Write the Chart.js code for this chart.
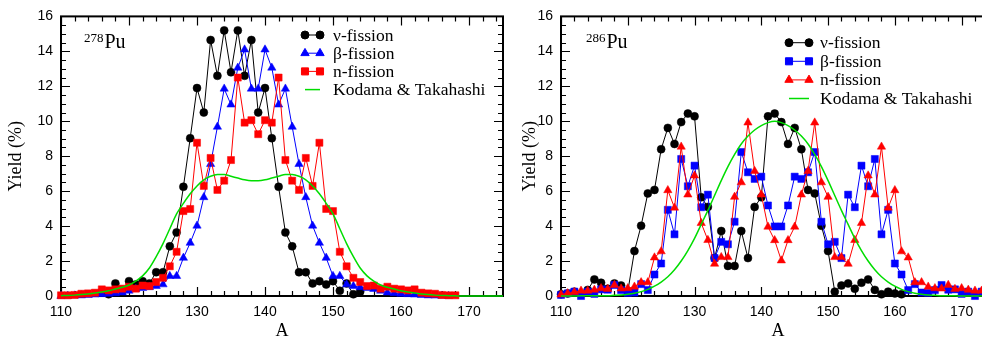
<!DOCTYPE html>
<html>
<head>
<meta charset="utf-8">
<script src="https://cdn.jsdelivr.net/npm/chart.js@4.4.0/dist/chart.umd.min.js"></script>
<style>
  html, body { margin: 0; padding: 0; background: #fff; overflow: hidden; }
  #wrap { position: relative; width: 982px; height: 342px; overflow: hidden; }
  #panelLeft { position: absolute; left: 0; top: 0; }
  #panelRight { position: absolute; left: 510px; top: 0; }
</style>
</head>
<body>
<div id="wrap">
  <canvas id="panelLeft" width="510" height="342"></canvas>
  <canvas id="panelRight" width="500" height="342"></canvas>
</div>
<script>
// mass number axis and ticks
var massNumbers = [110, 111, 112, 113, 114, 115, 116, 117, 118, 119,
  120, 121, 122, 123, 124, 125, 126, 127, 128, 129,
  130, 131, 132, 133, 134, 135, 136, 137, 138, 139,
  140, 141, 142, 143, 144, 145, 146, 147, 148, 149,
  150, 151, 152, 153, 154, 155, 156, 157, 158, 159,
  160, 161, 162, 163, 164, 165, 166, 167, 168, 169,
  170, 171, 172, 173, 174, 175];
var xTickValues = [110, 120, 130, 140, 150, 160, 170];
var yTickValues = [0, 2, 4, 6, 8, 10, 12, 14, 16];

var seriesNames = ['\u03bd-fission', '\u03b2-fission', 'n-fission', 'Kodama & Takahashi'];

// 278Pu yields (%), null = no point
var nuYield278 = [null, null, null, null, null, null, 0.25, 0.1, 0.72, 0.3,
  0.85, 0.66, 0.85, 0.72, 1.36, 1.36, 2.84, 3.64, 6.25, 9.03,
  11.9, 10.5, 14.65, 12.6, 15.2, 12.8, 15.2, 12.6, 14.65, 10.5,
  11.9, 9.03, 6.25, 3.64, 2.84, 1.36, 1.36, 0.72, 0.85, 0.66,
  0.85, 0.3, 0.72, 0.1, 0.25, null, null, null, null, null,
  null, null, null, null, null, null, null, null, null, null,
  null, null, null, null, null, null];
var betaYield278 = [0, 0.01, 0.02, 0.03, 0.05, 0.08, 0.1, 0.12, 0.15, 0.2,
  0.3, 0.4, 0.45, 0.5, 0.57, 0.66, 1.14, 1.14, 2.18, 3.04,
  4.02, 5.65, 7.55, 9.68, 11.86, 10.95, 13.06, 14.1, 11.86, 11.86,
  14.1, 13.06, 10.95, 11.86, 9.68, 7.55, 5.65, 4.02, 3.04, 2.18,
  1.14, 1.14, 0.66, 0.57, 0.5, 0.45, 0.4, 0.3, 0.2, 0.15,
  0.12, 0.1, 0.08, 0.05, 0.03, 0.02, 0.01, 0, null, null,
  null, null, null, null, null, null];
var nYield278 = [0.04, 0.04, 0.06, 0.13, 0.15, 0.19, 0.38, 0.32, 0.38, 0.42,
  0.53, 0.42, 0.6, 0.57, 0.8, 1.04, 1.7, 2.53, 4.86, 4.98,
  8.77, 6.3, 7.9, 6.07, 6.6, 7.78, 12.5, 9.92, 10.06, 9.26,
  10.06, 9.92, 12.5, 7.78, 6.6, 6.07, 7.9, 6.3, 8.77, 4.98,
  4.86, 2.53, 1.7, 1.04, 0.8, 0.57, 0.6, 0.42, 0.53, 0.42,
  0.38, 0.32, 0.38, 0.19, 0.15, 0.13, 0.06, 0.04, 0.04, null,
  null, null, null, null, null, null];
var ktYield278 = [0.02, 0.03, 0.05, 0.08, 0.12, 0.17, 0.23, 0.3, 0.4, 0.5,
  0.63, 0.85, 1.15, 1.6, 2.25, 3.0, 3.85, 4.7, 5.3, 5.85,
  6.3, 6.65, 6.85, 6.95, 6.95, 6.85, 6.75, 6.65, 6.6, 6.6,
  6.65, 6.75, 6.85, 6.95, 6.95, 6.85, 6.65, 6.3, 5.85, 5.3,
  4.7, 3.85, 3.0, 2.25, 1.6, 1.15, 0.85, 0.63, 0.5, 0.4,
  0.3, 0.23, 0.17, 0.12, 0.08, 0.05, 0.03, 0.02, 0.01, 0,
  0, 0, 0, 0, 0, 0];

// 286Pu yields (%)
var nuYield286 = [0.1, 0.15, 0.25, 0.1, 0.35, 0.95, 0.76, 0.42, 0.72, 0.6,
  0.25, 2.57, 4.02, 5.87, 6.07, 8.4, 9.62, 8.7, 9.95, 10.44,
  10.28, 5.65, 5.1, 2.17, 3.72, 1.72, 1.72, 3.72, 2.17, 5.1,
  5.65, 10.28, 10.44, 9.95, 8.7, 9.62, 8.4, 6.07, 5.87, 4.02,
  2.57, 0.25, 0.6, 0.72, 0.42, 0.76, 0.95, 0.35, 0.1, 0.25,
  0.15, 0.1, null, null, null, null, null, null, null, null,
  null, null, null, null, null, null];
var betaYield286 = [0.06, 0.15, 0.25, 0, 0.25, 0.12, 0.38, 0.36, 0.63, 0.34,
  0.18, 0.2, 0.68, 0.34, 1.23, 1.86, 4.93, 3.53, 7.84, 6.28,
  7.46, 5.08, 5.8, 2.17, 3.1, 2.96, 4.25, 8.24, 7.08, 6.7,
  6.83, 5.18, 3.98, 3.98, 5.18, 6.83, 6.7, 7.08, 8.24, 4.25,
  2.96, 3.1, 2.17, 5.8, 5.08, 7.46, 6.28, 7.84, 3.53, 4.93,
  1.86, 1.23, 0.34, 0.68, 0.2, 0.18, 0.34, 0.63, 0.36, 0.38,
  0.12, 0.25, 0, 0.25, null, null];
var nYield286 = [0.08, 0.15, 0.22, 0.3, 0.3, 0.35, 0.44, 0.4, 0.63, 0.42,
  0.44, 0.53, 0.78, 0.78, 2.2, 2.55, 6.05, 5.05, 8.54, 5.8,
  6.89, 4.17, 3.2, 1.84, 2.22, 2.22, 5.67, 6.5, 9.92, 7.15,
  5.8, 3.96, 3.19, 2.03, 3.19, 3.96, 5.8, 7.15, 9.92, 6.5,
  5.67, 2.22, 2.22, 1.84, 3.2, 4.17, 6.89, 5.8, 8.54, 5.05,
  6.05, 2.55, 2.2, 0.78, 0.78, 0.53, 0.44, 0.42, 0.63, 0.4,
  0.44, 0.35, 0.3, 0.3, null, null];
var ktYield286 = [0, 0, 0, 0.01, 0.01, 0.01, 0.01, 0.02, 0.04, 0.06,
  0.1, 0.16, 0.25, 0.38, 0.56, 0.8, 1.1, 1.5, 2.0, 2.6,
  3.3, 4.1, 4.9, 5.75, 6.6, 7.4, 8.1, 8.7, 9.15, 9.5,
  9.75, 9.92, 10.0, 9.92, 9.75, 9.5, 9.15, 8.7, 8.1, 7.4,
  6.6, 5.75, 4.9, 4.1, 3.3, 2.6, 2.0, 1.5, 1.1, 0.8,
  0.56, 0.38, 0.25, 0.16, 0.1, 0.06, 0.04, 0.02, 0.01, 0.01,
  0, 0, 0, 0, 0, 0];

// pair A with a yield column, dropping empty slots
function toPoints(values) {
  var pts = [];
  for (var i = 0; i < massNumbers.length; i++) {
    if (values[i] !== null) pts.push({ x: massNumbers[i], y: values[i] });
  }
  return pts;
}

// box with inward major/minor ticks on all four sides
var frameTicks = {
  id: 'frameTicks',
  beforeDatasetsDraw: function (chart) {
    var ctx = chart.ctx, a = chart.chartArea;
    var xs = chart.scales.x, ys = chart.scales.y;
    var v, p, len;
    ctx.save();
    ctx.strokeStyle = '#000';
    ctx.lineWidth = 1.2;
    ctx.beginPath();
    for (v = xs.min; v <= xs.max + 0.001; v += 2) {
      p = Math.round(xs.getPixelForValue(v)) + 0.5;
      len = (v % 10 === 0) ? 9 : 5;
      ctx.moveTo(p, a.bottom); ctx.lineTo(p, a.bottom - len);
      ctx.moveTo(p, a.top); ctx.lineTo(p, a.top + len);
    }
    for (v = ys.min; v <= ys.max + 0.001; v += 0.5) {
      p = Math.round(ys.getPixelForValue(v)) + 0.5;
      len = (v % 2 === 0) ? 9 : 5;
      ctx.moveTo(a.left, p); ctx.lineTo(a.left + len, p);
      ctx.moveTo(a.right, p); ctx.lineTo(a.right - len, p);
    }
    ctx.stroke();
    ctx.lineWidth = 2;
    ctx.strokeRect(a.left, a.top, a.right - a.left, a.bottom - a.top);
    ctx.restore();
  }
};

// legend rows: line with a marker at each end, then the name
var legendRows = {
  id: 'legendRows',
  afterDraw: function (chart, args, opts) {
    var ctx = chart.ctx;
    ctx.save();
    ctx.font = opts.font;
    ctx.textBaseline = 'middle';
    ctx.fillStyle = '#000';
    chart.data.datasets.forEach(function (ds, i) {
      var y = opts.top + i * opts.rowHeight;
      ctx.strokeStyle = ds.borderColor;
      ctx.fillStyle = ds.borderColor;
      ctx.lineWidth = ds.borderWidth;
      ctx.beginPath();
      ctx.moveTo(opts.x1, y);
      ctx.lineTo(opts.x2, y);
      ctx.stroke();
      if (ds.pointRadius > 0) {
        [opts.x1, opts.x2].forEach(function (px) {
          Chart.helpers.drawPoint(ctx, { pointStyle: ds.pointStyle, radius: ds.pointRadius, borderWidth: 0.5, rotation: 0 }, px, y);
        });
      }
      ctx.fillStyle = '#000';
      ctx.fillText(ds.label, opts.textX, y + 1);
    });
    ctx.restore();
  }
};

// nucleus tag such as 278Pu with raised mass number
var nucleusTag = {
  id: 'nucleusTag',
  afterDraw: function (chart, args, opts) {
    var ctx = chart.ctx;
    ctx.save();
    ctx.fillStyle = '#000';
    ctx.textBaseline = 'alphabetic';
    ctx.font = '13px "Liberation Serif"';
    ctx.fillText(opts.mass, opts.x, opts.y - 6);
    var w = ctx.measureText(opts.mass).width;
    ctx.font = '20px "Liberation Serif"';
    ctx.fillText(opts.symbol, opts.x + w + 1, opts.y);
    ctx.restore();
  }
};

function makeDataset(label, values, color, style, radius, order) {
  return {
    label: label,
    data: toPoints(values),
    borderColor: color,
    backgroundColor: color,
    borderWidth: 1,
    pointStyle: style,
    pointRadius: radius,
    pointBackgroundColor: color,
    pointBorderColor: color,
    pointBorderWidth: 0.5,
    tension: 0,
    clip: false,
    order: order
  };
}

function curveDataset(label, values, color, order) {
  return {
    label: label,
    data: toPoints(values),
    borderColor: color,
    borderWidth: 1.5,
    pointRadius: 0,
    cubicInterpolationMode: 'monotone',
    clip: false,
    order: order
  };
}

function buildOptions(yAxisWidth, yTitlePad, rightPad, legend, tag) {
  return {
    responsive: false,
    animation: false,
    events: [],
    layout: { padding: { left: 0, right: rightPad, top: 15, bottom: 0 } },
    scales: {
      x: {
        type: 'linear',
        min: 110,
        max: 175,
        afterFit: function (scale) { scale.height = 46; },
        afterBuildTicks: function (scale) {
          scale.ticks = xTickValues.map(function (v) { return { value: v }; });
        },
        grid: { display: false, drawTicks: false },
        border: { display: false },
        ticks: {
          color: '#000',
          padding: 8,
          maxRotation: 0,
          font: { family: '"Liberation Sans", Arial, sans-serif', size: 14 }
        },
        title: {
          display: true,
          text: 'A',
          color: '#000',
          padding: { top: 0, bottom: 0 },
          font: { family: '"Liberation Serif", serif', size: 18 }
        }
      },
      y: {
        type: 'linear',
        min: 0,
        max: 16,
        afterFit: function (scale) { scale.width = yAxisWidth; },
        afterBuildTicks: function (scale) {
          scale.ticks = yTickValues.map(function (v) { return { value: v }; });
        },
        grid: { display: false, drawTicks: false },
        border: { display: false },
        ticks: {
          color: '#000',
          padding: 8,
          font: { family: '"Liberation Sans", Arial, sans-serif', size: 14 }
        },
        title: {
          display: true,
          text: 'Yield (%)',
          color: '#000',
          padding: { top: yTitlePad, bottom: 0 },
          font: { family: '"Liberation Serif", serif', size: 18 }
        }
      }
    },
    plugins: {
      legend: { display: false },
      tooltip: { enabled: false },
      legendRows: legend,
      nucleusTag: tag
    }
  };
}

document.addEventListener('DOMContentLoaded', function () {
  // left panel: 278Pu
  new Chart(document.getElementById('panelLeft').getContext('2d'), {
    type: 'line',
    data: {
      datasets: [
        makeDataset(seriesNames[0], nuYield278, '#000000', 'circle', 4, 4),
        makeDataset(seriesNames[1], betaYield278, '#0000ff', 'triangle', 4.8, 3),
        makeDataset(seriesNames[2], nYield278, '#ff0000', 'rect', 5, 2),
        curveDataset(seriesNames[3], ktYield278, '#00dd00', 1)
      ]
    },
    options: buildOptions(61, 5, 7,
      { x1: 305, x2: 320, textX: 333, top: 35, rowHeight: 18.2, font: '17.5px "Liberation Serif"' },
      { mass: '278', symbol: 'Pu', x: 84, y: 48 }),
    plugins: [frameTicks, legendRows, nucleusTag]
  });

  // right panel: 286Pu
  new Chart(document.getElementById('panelRight').getContext('2d'), {
    type: 'line',
    data: {
      datasets: [
        makeDataset(seriesNames[0], nuYield286, '#000000', 'circle', 4, 4),
        makeDataset(seriesNames[1], betaYield286, '#0000ff', 'rect', 5, 3),
        makeDataset(seriesNames[2], nYield286, '#ff0000', 'triangle', 4.8, 2),
        curveDataset(seriesNames[3], ktYield286, '#00dd00', 1)
      ]
    },
    options: buildOptions(51, 9, 15,
      { x1: 279, x2: 299, textX: 310, top: 42.7, rowHeight: 18.6, font: '17.5px "Liberation Serif"' },
      { mass: '286', symbol: 'Pu', x: 76, y: 48 }),
    plugins: [frameTicks, legendRows, nucleusTag]
  });
});
</script>
</body>
</html>
